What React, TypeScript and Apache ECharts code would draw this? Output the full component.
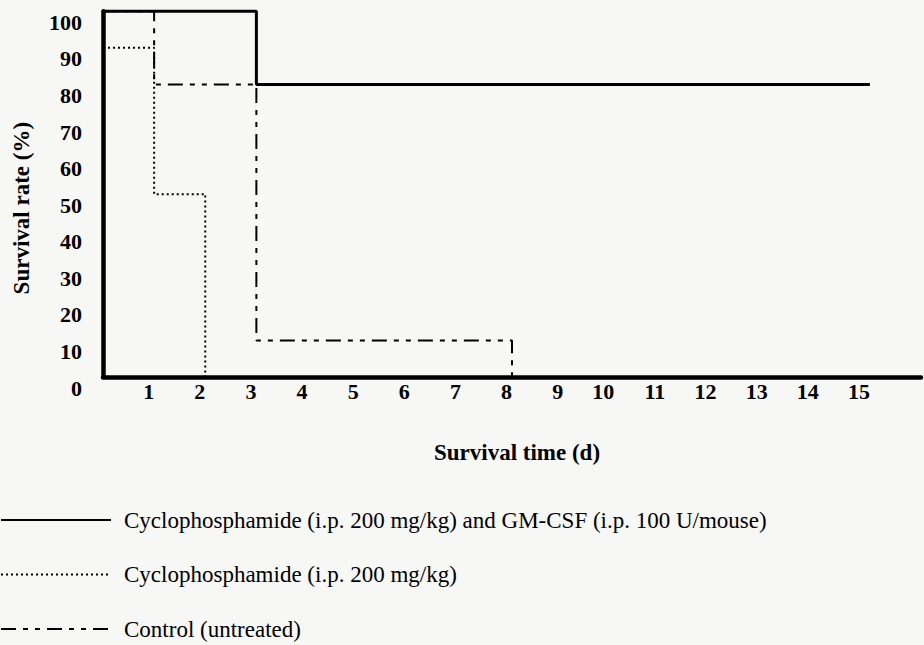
import React, { useEffect, useRef } from "react";
import * as echarts from "echarts";

// Kaplan–Meier style survival data (day of event, survival % from that day on)
const comboDays = [0, 3, 15];
const comboSurvival = [100, 80, 80];
const cyDays = [0, 1, 2];
const cySurvival = [90, 50, 0];
const ctrlDays = [0, 1, 3, 8];
const ctrlSurvival = [100, 80, 10, 0];

const seriesNames = [
  "Cyclophosphamide (i.p. 200 mg/kg) and GM-CSF (i.p. 100 U/mouse)",
  "Cyclophosphamide (i.p. 200 mg/kg)",
  "Control (untreated)",
];
const xTickLabels = ["1", "2", "3", "4", "5", "6", "7", "8", "9", "10", "11", "12", "13", "14", "15"];
const yTickLabels = ["0", "10", "20", "30", "40", "50", "60", "70", "80", "90", "100"];

const SERIF = '"Liberation Serif", "Times New Roman", Times, serif';
const BG = "#f7f7f5";

const pairs = (xs: number[], ys: number[]) => xs.map((x, i) => [x, ys[i]]);

export default function App() {
  const ref = useRef<HTMLDivElement>(null);
  useEffect(() => {
    document.body.style.margin = "0";
    document.body.style.background = BG;
    if (!ref.current) return;
    const chart = echarts.init(ref.current, undefined, { renderer: "svg" });
    chart.setOption({
      animation: false,
      backgroundColor: BG,
      grid: { left: 103, top: 11.3, width: 830.4, height: 365.7, containLabel: false },
      xAxis: {
        type: "value",
        min: 0,
        max: 16,
        interval: 1,
        name: "{pad|}Survival time (d)",
        nameLocation: "middle",
        nameGap: 63,
        nameTextStyle: {
          fontFamily: SERIF,
          fontSize: 23,
          fontWeight: "bold",
          color: "#000",
          lineHeight: 24,
          rich: { pad: { width: 10, fontSize: 23, lineHeight: 24 } },
        },
        axisLine: { show: true, lineStyle: { color: "#000", width: 4.5 } },
        axisTick: { show: false },
        splitLine: { show: false },
        axisLabel: {
          fontFamily: SERIF,
          fontSize: 22,
          fontWeight: "bold",
          color: "#000",
          align: "right",
          lineHeight: 22,
          margin: 3,
          formatter: (v: number) => (v >= 1 && v <= 15 ? xTickLabels[v - 1] : ""),
        },
      },
      yAxis: {
        type: "value",
        min: 0,
        max: 100,
        interval: 10,
        name: "Survival rate (%)",
        nameLocation: "middle",
        nameRotate: 90,
        nameGap: 70,
        nameTextStyle: {
          fontFamily: SERIF,
          fontSize: 23,
          fontWeight: "bold",
          color: "#000",
          padding: [0, 28, 0, 0],
        },
        axisLine: { show: true, lineStyle: { color: "#000", width: 4.5 } },
        axisTick: { show: false },
        splitLine: { show: false },
        axisLabel: {
          fontFamily: SERIF,
          fontSize: 22,
          fontWeight: "bold",
          color: "#000",
          margin: 21,
          lineHeight: 22,
          verticalAlign: "top",
          showMinLabel: true,
          showMaxLabel: true,
          formatter: (v: number) => yTickLabels[Math.round(v / 10)] ?? "",
        },
      },
      legend: {
        orient: "vertical",
        left: 0,
        top: 508,
        height: 180,
        padding: 0,
        itemWidth: 110,
        itemHeight: 14,
        itemGap: 30.5,
        data: seriesNames,
        itemStyle: { color: "rgba(0,0,0,0)", borderColor: "rgba(0,0,0,0)", borderWidth: 0, opacity: 0 },
        textStyle: {
          fontFamily: SERIF,
          fontSize: 23,
          color: "#000",
          lineHeight: 24,
          padding: [0, 0, 0, 8],
        },
      },
      series: [
        {
          name: seriesNames[2],
          type: "line",
          step: "end",
          symbol: "none",
          clip: false,
          data: pairs(ctrlDays, ctrlSurvival),
          lineStyle: { color: "#000", width: 2, type: [15, 7, 5, 7, 5, 7] },
          itemStyle: { color: "#000" },
          z: 2,
        },
        {
          name: seriesNames[1],
          type: "line",
          step: "end",
          symbol: "none",
          clip: false,
          data: pairs(cyDays, cySurvival),
          lineStyle: { color: "#000", width: 2, type: [2, 3] },
          itemStyle: { color: "#000" },
          z: 3,
        },
        {
          name: seriesNames[0],
          type: "line",
          step: "end",
          symbol: "none",
          clip: false,
          data: pairs(comboDays, comboSurvival),
          lineStyle: { color: "#000", width: 3, type: "solid" },
          itemStyle: { color: "#000" },
          z: 4,
        },
      ],
    });
    return () => chart.dispose();
  }, []);
  return <div ref={ref} style={{ width: 924, height: 645, background: BG }} />;
}
